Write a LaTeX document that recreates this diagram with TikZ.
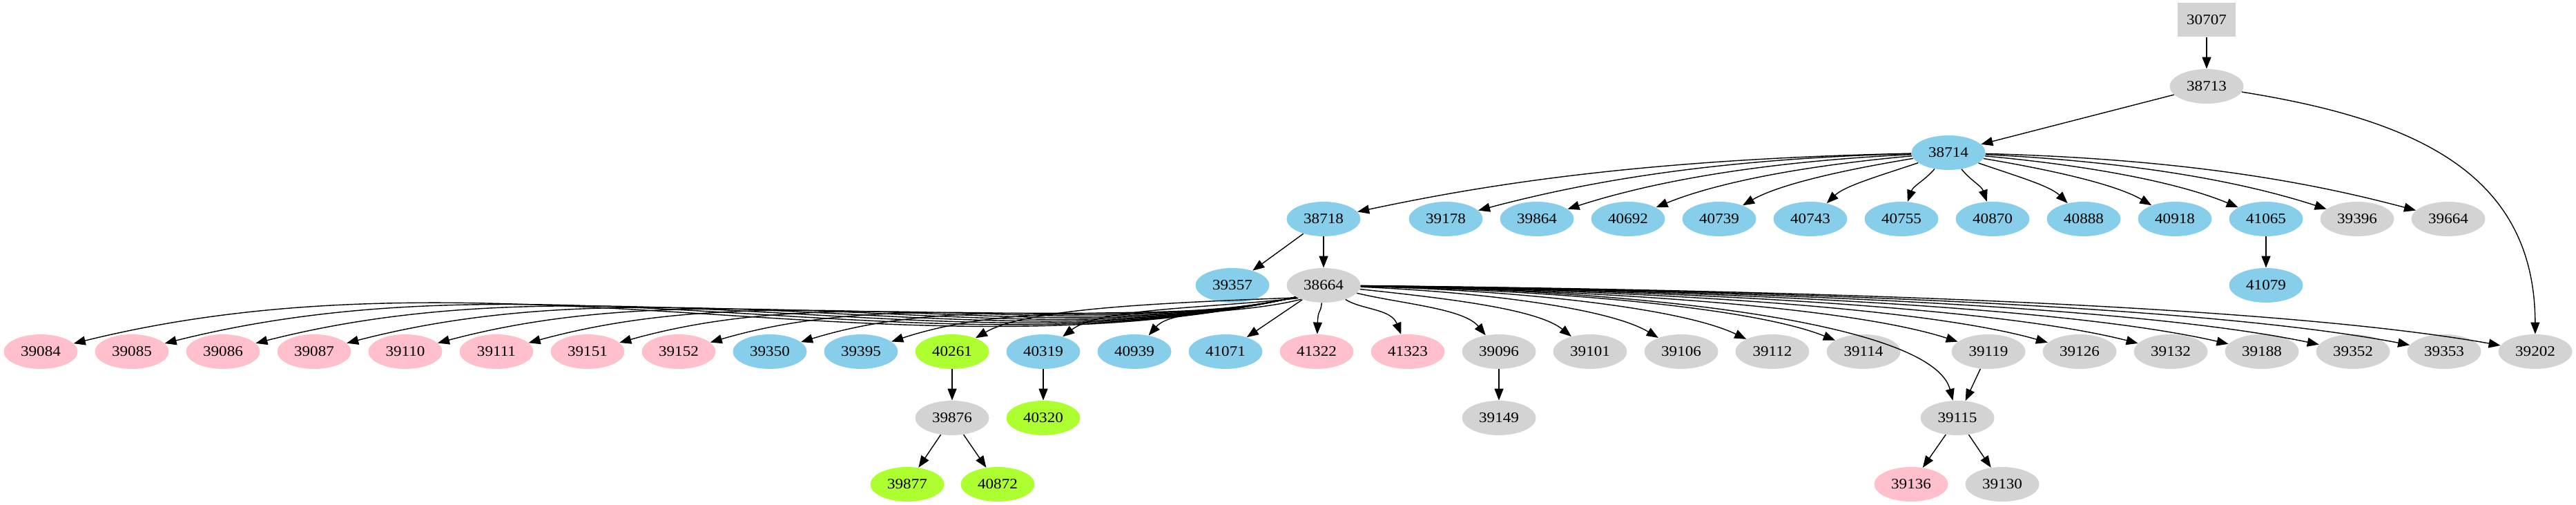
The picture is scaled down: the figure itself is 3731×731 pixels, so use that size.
\documentclass[tikz,border=0pt]{standalone}
\usepackage{fontspec}
\setmainfont[FakeStretch=1.1]{Liberation Serif}
\usetikzlibrary{shapes.geometric,arrows.meta}
\definecolor{gpink}{HTML}{FFC0CB}
\definecolor{gblue}{HTML}{87CEEB}
\definecolor{ggreen}{HTML}{ADFF2F}
\definecolor{ggray}{HTML}{D3D3D3}
\begin{document}
\begin{tikzpicture}[x=0.5pt,y=-0.5pt,
  nd/.style={ellipse,minimum width=53.5pt,minimum height=25pt,inner sep=0pt,font=\fontsize{10.5}{12}\selectfont},
  pk/.style={nd,fill=gpink},
  bl/.style={nd,fill=gblue},
  gr/.style={nd,fill=ggreen},
  gy/.style={nd,fill=ggray},
  bx/.style={rectangle,minimum width=42pt,minimum height=24.5pt,inner sep=0pt,fill=ggray,font=\fontsize{10.5}{12}\selectfont},
  edge/.style={line width=0.7pt,-{Triangle[length=8.5pt,width=6.5pt]}}]
\useasboundingbox (0,0) rectangle (3731,731);
% nodes
\node[bx] (n30707) at (3196,29) {30707};
\node[gy] (n38713) at (3196,125) {38713};
\node[bl] (n38714) at (2822,221) {38714};
\foreach \n/\x/\s in {38718/1917/bl,39178/2094/bl,39864/2226/bl,40692/2358/bl,40739/2490/bl,40743/2622/bl,40755/2754/bl,40870/2886/bl,40888/3018/bl,40918/3150/bl,41065/3282/bl,39396/3414/gy,39664/3546/gy}
  \node[\s] (n\n) at (\x,317) {\n};
\foreach \n/\x/\s in {39357/1785/bl,38664/1917/gy,41079/3282/bl}
  \node[\s] (n\n) at (\x,413) {\n};
\foreach \n/\x/\s in {39084/59/pk,39085/191/pk,39086/323/pk,39087/455/pk,39110/587/pk,39111/719/pk,39151/851/pk,39152/983/pk,39350/1115/bl,39395/1247/bl,40261/1379/gr,40319/1511/bl,40939/1643/bl,41071/1775/bl,41322/1907/pk,41323/2039/pk,39096/2171/gy,39101/2303/gy,39106/2435/gy,39112/2567/gy,39114/2699/gy,39119/2880/gy,39126/3012/gy,39132/3144/gy,39188/3276/gy,39352/3408/gy,39353/3540/gy,39202/3672/gy}
  \node[\s] (n\n) at (\x,509) {\n};
\foreach \n/\x/\s in {39876/1379/gy,40320/1511/gr,39149/2171/gy,39115/2835/gy}
  \node[\s] (n\n) at (\x,605) {\n};
\foreach \n/\x/\s in {39877/1314/gr,40872/1445/gr,39136/2768/pk,39130/2900/gy}
  \node[\s] (n\n) at (\x,701) {\n};
% edges
\draw[edge] (n30707) -- (n38713);
\draw[edge] (n38713) -- (n38714);
\draw[edge] (n38713) .. controls (3497,173) and (3671,250) .. (n39202);
\foreach \n/\x in {38718/1917,39178/2094,39864/2226,40692/2358,40739/2490,40743/2622,40755/2754,40870/2886,40888/3018,40918/3150,41065/3282,39396/3414,39664/3546}{
  \pgfmathsetmacro\dx{\x-2822}
  \pgfmathsetmacro\ax{2822+0.5*\dx}
  \pgfmathsetmacro\ay{221+96*max(0.1,0.45-abs(\dx)/2000)}
  \pgfmathsetmacro\bx{\x-0.25*\dx}
  \draw[edge] (n38714) .. controls (\ax,\ay) and (\bx,269) .. (n\n);
}
\draw[edge] (n38718) -- (n39357);
\draw[edge] (n38718) -- (n38664);
\draw[edge] (n41065) -- (n41079);
% left bundle from 38664
\foreach \n/\x in {39084/59,39085/191,39086/323,39087/455,39110/587,39111/719,39151/851,39152/983,39350/1115,39395/1247}{
  \pgfmathsetmacro\xt{\x+38}
  \pgfmathsetmacro\ad{1876-\xt}
  \pgfmathsetmacro\ax{1876-0.32*\ad}
  \pgfmathsetmacro\ay{432+0.07*\ad}
  \pgfmathsetmacro\bx{\xt+0.35*\ad}
  \pgfmathsetmacro\by{470-0.07*\ad}
  \draw[edge] (n38664.203) .. controls (\ax,\ay) and (\bx,\by) .. (n\n);
}
% left fan from 38664
\foreach \n/\x/\a in {40261/1379/205,40319/1511/207,40939/1643/212}{
  \pgfmathsetmacro\dx{\x-1917}
  \pgfmathsetmacro\ax{1917+0.45*\dx}
  \pgfmathsetmacro\ay{430+96*max(0.08,0.45-abs(\dx)/1500)}
  \pgfmathsetmacro\bx{\x-0.2*\dx}
  \draw[edge] (n38664.\a) .. controls (\ax,\ay) and (\bx,446.6) .. (n\n);
}
\draw[edge] (n38664) -- (n41071);
% right fan from 38664
\foreach \n/\x in {41322/1907,41323/2039,39096/2171,39101/2303,39106/2435,39112/2567,39114/2699,39119/2880,39126/3012,39132/3144,39188/3276,39352/3408,39353/3540,39202/3672}{
  \pgfmathsetmacro\dx{\x-1917}
  \pgfmathsetmacro\ax{1917+0.45*\dx}
  \pgfmathsetmacro\ay{413+96*max(0.08,0.45-abs(\dx)/1500)}
  \pgfmathsetmacro\bx{\x-0.2*\dx}
  \draw[edge] (n38664) .. controls (\ax,\ay) and (\bx,446.6) .. (n\n);
}
\draw[edge] (n38664) .. controls (2400,420) and (2800,470) .. (n39115);
\draw[edge] (n39119) -- (n39115);
\draw[edge] (n39115) -- (n39136);
\draw[edge] (n39115) -- (n39130);
\draw[edge] (n40261) -- (n39876);
\draw[edge] (n39876) -- (n39877);
\draw[edge] (n39876) -- (n40872);
\draw[edge] (n40319) -- (n40320);
\draw[edge] (n39096) -- (n39149);
\end{tikzpicture}
\end{document}
